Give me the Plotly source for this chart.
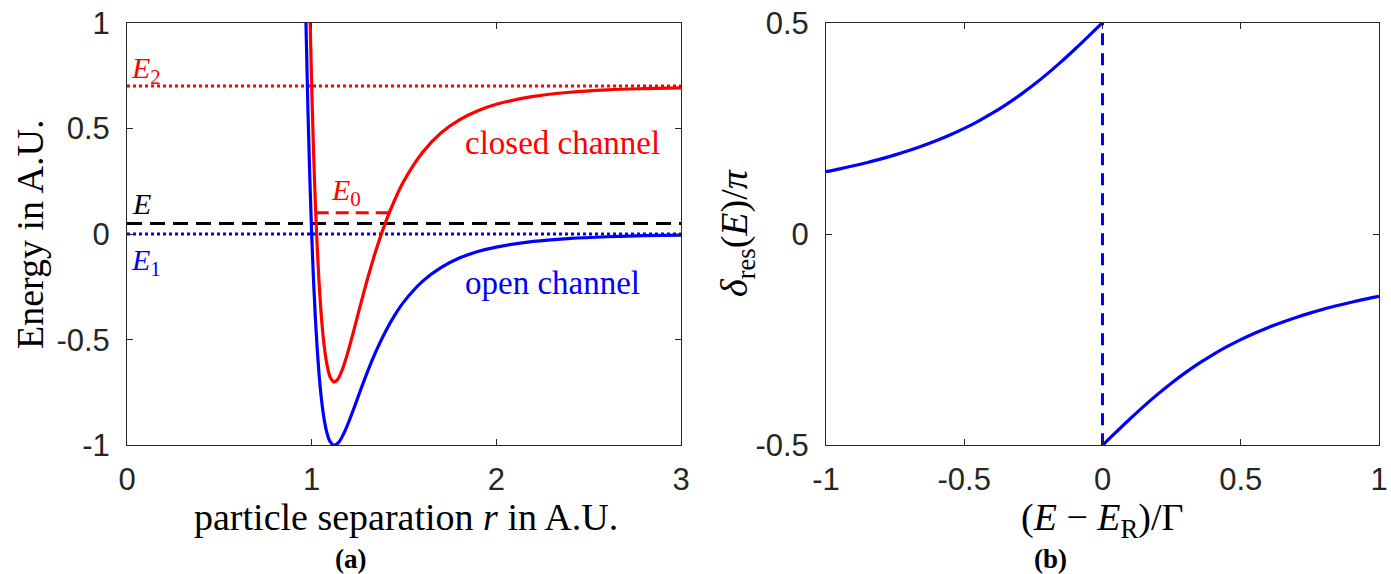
import plotly.graph_objects as go

# ---- data ----
r_vals = [0.95, 0.96, 0.97, 0.98, 0.99, 1.00, 1.01, 1.02, 1.03, 1.04, 1.05, 1.06, 1.07,
          1.08, 1.09, 1.10, 1.12, 1.14, 1.16, 1.18, 1.20, 1.23, 1.26, 1.30, 1.35, 1.40,
          1.45, 1.50, 1.60, 1.70, 1.80, 1.90, 2.00, 2.20, 2.40, 2.60, 2.80, 3.00]
open_channel = [1.961, 1.418, 0.963, 0.582, 0.264, 0.000, -0.218, -0.398, -0.544, -0.663,
                -0.758, -0.832, -0.889, -0.932, -0.963, -0.983, -1.000, -0.992, -0.968,
                -0.933, -0.891, -0.822, -0.750, -0.657, -0.552, -0.461, -0.384, -0.320,
                -0.224, -0.159, -0.114, -0.083, -0.062, -0.035, -0.021, -0.013, -0.008, -0.005]
closed_channel = [3.445, 2.685, 2.048, 1.515, 1.070, 0.700, 0.394, 0.143, -0.062, -0.228,
                  -0.361, -0.465, -0.545, -0.605, -0.648, -0.677, -0.700, -0.689, -0.655,
                  -0.606, -0.547, -0.450, -0.350, -0.220, -0.072, 0.055, 0.162, 0.252,
                  0.386, 0.478, 0.540, 0.583, 0.614, 0.651, 0.671, 0.682, 0.688, 0.692]
E1_level = 0.0
E2_level = 0.7
E_level = 0.05
E0_level = 0.1
E0_r = [1.022, 1.420]
r_range = [0, 3]

x_left = [-1.0, -0.95, -0.9, -0.85, -0.8, -0.75, -0.7, -0.65, -0.6, -0.55, -0.5, -0.45,
          -0.4, -0.35, -0.3, -0.25, -0.2, -0.15, -0.1, -0.05, 0.0]
delta_left = [0.1476, 0.1542, 0.1614, 0.1693, 0.1778, 0.1872, 0.1974, 0.2087, 0.2211,
              0.2349, 0.2500, 0.2667, 0.2852, 0.3056, 0.3280, 0.3524, 0.3789, 0.4072,
              0.4372, 0.4683, 0.5000]
x_right = [0.0, 0.05, 0.1, 0.15, 0.2, 0.25, 0.3, 0.35, 0.4, 0.45, 0.5, 0.55, 0.6, 0.65,
           0.7, 0.75, 0.8, 0.85, 0.9, 0.95, 1.0]
delta_right = [-0.5000, -0.4683, -0.4372, -0.4072, -0.3789, -0.3524, -0.3280, -0.3056,
               -0.2852, -0.2667, -0.2500, -0.2349, -0.2211, -0.2087, -0.1974, -0.1872,
               -0.1778, -0.1693, -0.1614, -0.1542, -0.1476]
jump_x = [0.0, 0.0]
jump_y = [-0.5, 0.5]

left_xticks = [0, 1, 2, 3]
left_yticks = [-1, -0.5, 0, 0.5, 1]
left_yticklabels = ["-1", "-0.5", "0", "0.5", "1"]
right_xticks = [-1, -0.5, 0, 0.5, 1]
right_xticklabels = ["-1", "-0.5", "0", "0.5", "1"]
right_yticks = [-0.5, 0, 0.5]
right_yticklabels = ["-0.5", "0", "0.5"]

BLUE = "#0000ff"
RED = "#ff0000"
AX = "#262626"
W, H = 1391, 574

fig = go.Figure()

# left panel
fig.add_trace(go.Scatter(x=r_range, y=[E2_level, E2_level], mode="lines",
                         line=dict(color=RED, width=3, dash="dot"), xaxis="x", yaxis="y"))
fig.add_trace(go.Scatter(x=r_range, y=[E1_level, E1_level], mode="lines",
                         line=dict(color=BLUE, width=3, dash="dot"), xaxis="x", yaxis="y"))
fig.add_trace(go.Scatter(x=r_range, y=[E_level, E_level], mode="lines",
                         line=dict(color="black", width=3, dash="15px,8px"), xaxis="x", yaxis="y"))
fig.add_trace(go.Scatter(x=E0_r, y=[E0_level, E0_level], mode="lines",
                         line=dict(color=RED, width=3, dash="13px,7px"), xaxis="x", yaxis="y"))
fig.add_trace(go.Scatter(x=r_vals, y=open_channel, mode="lines", line_shape="spline",
                         line=dict(color=BLUE, width=3.2), xaxis="x", yaxis="y"))
fig.add_trace(go.Scatter(x=r_vals, y=closed_channel, mode="lines", line_shape="spline",
                         line=dict(color=RED, width=3.2), xaxis="x", yaxis="y"))

# right panel
fig.add_trace(go.Scatter(x=x_left, y=delta_left, mode="lines", line_shape="spline",
                         line=dict(color=BLUE, width=3.2), xaxis="x2", yaxis="y2"))
fig.add_trace(go.Scatter(x=x_right, y=delta_right, mode="lines", line_shape="spline",
                         line=dict(color=BLUE, width=3.2), xaxis="x2", yaxis="y2"))
fig.add_trace(go.Scatter(x=jump_x, y=jump_y, mode="lines",
                         line=dict(color=BLUE, width=3, dash="12px,8px"), xaxis="x2", yaxis="y2"))

tickfont = dict(family="Liberation Sans, Arial, sans-serif", size=31, color=AX)
axis_common = dict(showline=True, linecolor=AX, linewidth=1, mirror="ticks", ticks="inside",
                   ticklen=6, tickcolor=AX, tickwidth=1, showgrid=False, zeroline=False,
                   tickfont=tickfont, automargin=False, fixedrange=True)

ydom = [1 - 445.3 / H, 1 - 22.7 / H]
fig.update_layout(
    width=W, height=H, margin=dict(l=0, r=0, t=0, b=0, autoexpand=False),
    paper_bgcolor="white", plot_bgcolor="white", showlegend=False,
    xaxis=dict(domain=[127 / W, 681 / W], range=[0, 3], tickvals=left_xticks,
               ticklabelstandoff=6, **axis_common),
    yaxis=dict(domain=ydom, range=[-1, 1], tickvals=left_yticks, ticktext=left_yticklabels,
               ticklabelstandoff=10, **axis_common),
    xaxis2=dict(domain=[826 / W, 1379 / W], range=[-1, 1], tickvals=right_xticks,
                ticktext=right_xticklabels, ticklabelstandoff=6, anchor="y2", **axis_common),
    yaxis2=dict(domain=ydom, range=[-0.5, 0.5], tickvals=right_yticks,
                ticktext=right_yticklabels, ticklabelstandoff=10, anchor="x2", **axis_common),
)

serif = "Liberation Serif, Times New Roman, serif"


def px_ann(text, x, y, size, color="black", angle=0, xanchor="center", yanchor="middle"):
    fig.add_annotation(text=text, x=x / W, y=1 - y / H, xref="paper", yref="paper",
                       showarrow=False, textangle=angle, xanchor=xanchor, yanchor=yanchor,
                       font=dict(family=serif, size=size, color=color))


# axis titles
px_ann("particle separation <i>r</i> in A.U.", 406, 517, 38)
px_ann("Energy in A.U.", 30, 235, 38, angle=-90)
px_ann("(<i>E</i> − <i>E</i><sub>R</sub>)/Γ", 1102, 520, 38)
px_ann("<i>δ</i><sub>res</sub>(<i>E</i>)/<i>π</i>", 737, 233, 38, angle=-90)
# captions
px_ann("<b>(a)</b>", 350, 559, 27)
px_ann("<b>(b)</b>", 1050, 559, 27)
# in-plot labels
px_ann("closed channel", 463, 143, 33, color=RED, xanchor="left")
px_ann("open channel", 463, 283, 33, color=BLUE, xanchor="left")
px_ann("<i>E</i><sub>2</sub>", 129, 70, 30, color=RED, xanchor="left")
px_ann("<i>E</i>", 130, 204, 30, color="black", xanchor="left")
px_ann("<i>E</i><sub>1</sub>", 129, 262, 30, color=BLUE, xanchor="left")
px_ann("<i>E</i><sub>0</sub>", 329, 192, 30, color=RED, xanchor="left")

fig.write_html("out.html")
